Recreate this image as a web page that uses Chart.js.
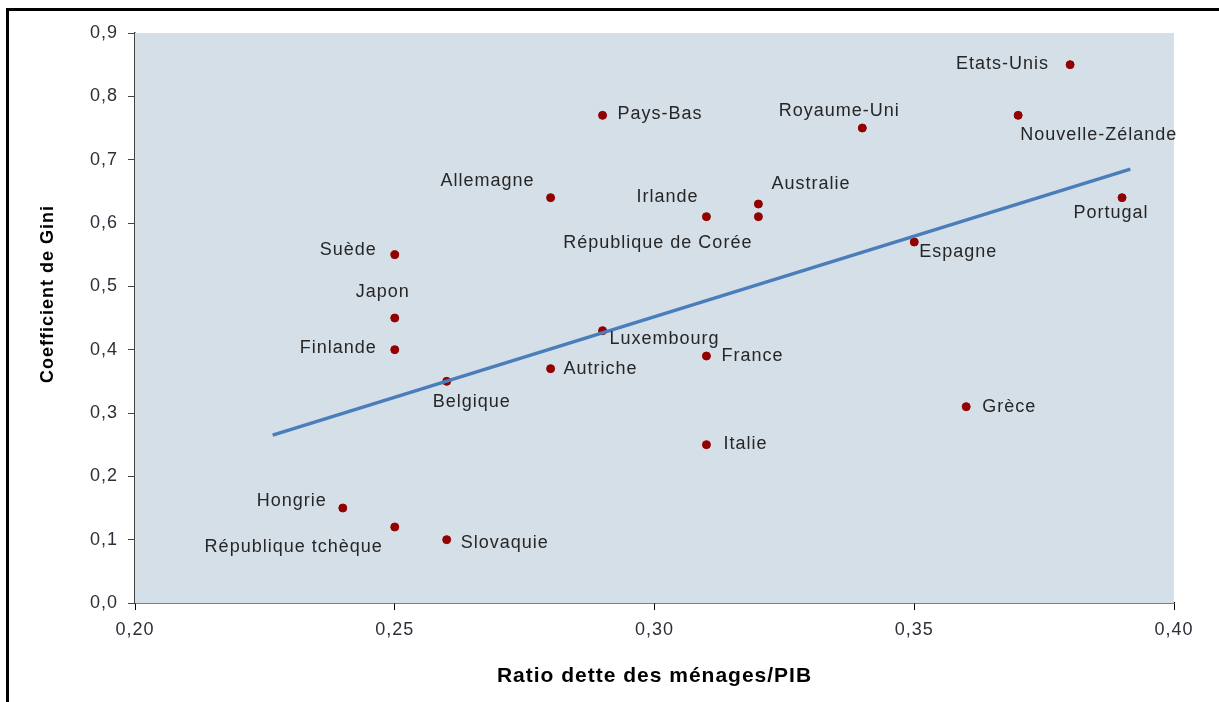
<!DOCTYPE html>
<html>
<head>
<meta charset="utf-8">
<script src="https://cdn.jsdelivr.net/npm/chart.js@4"></script>
<style>
  html, body { margin: 0; padding: 0; background: #fff; }
  #wrap { position: relative; width: 1219px; height: 702px; }
  #frame { position: absolute; left: 6px; top: 8px; right: -10px; bottom: -10px;
           border-top: 3px solid #000; border-left: 3px solid #000; pointer-events: none; }
</style>
</head>
<body>
<div id="wrap">
  <canvas id="gini-chart" width="1219" height="702"></canvas>
  <div id="frame"></div>
</div>
<script>
// data
const countries = ['Etats-Unis', 'Nouvelle-Zélande', 'Royaume-Uni', 'Pays-Bas', 'Allemagne', 'Irlande',
    'Australie', 'République de Corée', 'Portugal', 'Espagne', 'Suède', 'Japon', 'Finlande',
    'Luxembourg', 'France', 'Autriche', 'Belgique', 'Grèce', 'Italie', 'Hongrie',
    'République tchèque', 'Slovaquie'];
const debtRatio = [0.38, 0.37, 0.34, 0.29, 0.28, 0.31, 0.32, 0.32, 0.39, 0.35, 0.25, 0.25, 0.25,
    0.29, 0.31, 0.28, 0.26, 0.36, 0.31, 0.24, 0.25, 0.26];
const gini = [0.85, 0.77, 0.75, 0.77, 0.64, 0.61, 0.63, 0.61, 0.64, 0.57, 0.55, 0.45, 0.40,
    0.43, 0.39, 0.37, 0.35, 0.31, 0.25, 0.15, 0.12, 0.10];
const trendX = [0.2265, 0.3916];
const trendY = [0.265, 0.685];

const xTitle = 'Ratio dette des ménages/PIB';
const yTitle = 'Coefficient de Gini';

// where each label sits relative to its point: [textAlign, dx, dy]
const labelPlace = {
    'Etats-Unis': ['right', -21, -1],
    'Nouvelle-Zélande': ['left', 2, 20],
    'Royaume-Uni': ['center', -23, -17],
    'Pays-Bas': ['left', 15, -1],
    'Allemagne': ['right', -16, -17],
    'Irlande': ['right', -8, -20],
    'Australie': ['left', 13, -20],
    'République de Corée': ['right', -6, 26],
    'Portugal': ['center', -11, 15],
    'Espagne': ['left', 5, 10],
    'Suède': ['right', -18, -5],
    'Japon': ['center', -12, -26],
    'Finlande': ['right', -18, -2],
    'Luxembourg': ['left', 7, 8],
    'France': ['left', 15, 0],
    'Autriche': ['left', 13, 0],
    'Belgique': ['center', 25, 21],
    'Grèce': ['left', 16, 0],
    'Italie': ['left', 17, -1],
    'Hongrie': ['right', -16, -7],
    'République tchèque': ['right', -12, 20],
    'Slovaquie': ['left', 14, 3]
};

const FONT = '"Liberation Sans", Arial, sans-serif';

// the original is a bit stretched sideways, so all text gets some letter spacing
const wideText = {
    id: 'wideText',
    beforeLayout(chart) { chart.ctx.letterSpacing = '1px'; },
    beforeDraw(chart) { chart.ctx.letterSpacing = '1px'; }
};

const plotBackground = {
    id: 'plotBackground',
    beforeDatasetsDraw(chart) {
        const {ctx, chartArea} = chart;
        ctx.save();
        ctx.fillStyle = '#d5dfe8';
        ctx.fillRect(chartArea.left, chartArea.top, chartArea.right - chartArea.left, chartArea.bottom - chartArea.top);
        ctx.restore();
    }
};

const pointLabels = {
    id: 'pointLabels',
    afterDatasetsDraw(chart) {
        const {ctx} = chart;
        const meta = chart.getDatasetMeta(1);
        ctx.save();
        ctx.font = '18px ' + FONT;
        ctx.fillStyle = '#262626';
        ctx.textBaseline = 'middle';
        meta.data.forEach((pt, i) => {
            const place = labelPlace[countries[i]] || ['left', 10, 0];
            ctx.textAlign = place[0];
            ctx.fillText(countries[i], pt.x + place[1], pt.y + place[2]);
        });
        ctx.restore();
    }
};

// y title sits a little above the middle of the axis in the original
const yAxisTitle = {
    id: 'yAxisTitle',
    afterDraw(chart) {
        const {ctx, chartArea} = chart;
        ctx.save();
        ctx.translate(48, (chartArea.top + chartArea.bottom) / 2 - 24);
        ctx.rotate(-Math.PI / 2);
        ctx.font = 'bold 18px ' + FONT;
        ctx.fillStyle = '#000';
        ctx.textAlign = 'center';
        ctx.textBaseline = 'middle';
        ctx.fillText(yTitle, 0, 0);
        ctx.restore();
    }
};

const comma = (v, d) => v.toFixed(d).replace('.', ',');

const ctx = document.getElementById('gini-chart').getContext('2d');
new Chart(ctx, {
    type: 'scatter',
    data: {
        datasets: [{
            label: 'Tendance',
            type: 'line',
            data: trendX.map((x, i) => ({x: x, y: trendY[i]})),
            borderColor: '#4a7ebb',
            borderWidth: 3.5,
            pointRadius: 0,
            fill: false
        }, {
            label: 'Pays',
            data: debtRatio.map((x, i) => ({x: x, y: gini[i]})),
            backgroundColor: '#930000',
            borderColor: '#930000',
            pointRadius: 4,
            pointHoverRadius: 4
        }]
    },
    options: {
        responsive: false,
        animation: false,
        layout: { padding: { left: 0, right: 45, top: 33, bottom: 0 } },
        plugins: {
            legend: { display: false },
            tooltip: { enabled: false }
        },
        scales: {
            x: {
                type: 'linear',
                min: 0.2,
                max: 0.4,
                afterFit(scale) { scale.height = 99; },
                ticks: {
                    stepSize: 0.05,
                    padding: 9,
                    color: '#2e2e3a',
                    font: { family: FONT, size: 18 },
                    callback: v => comma(v, 2)
                },
                grid: { display: true, drawOnChartArea: false, tickLength: 7, tickColor: '#000' },
                border: { display: true, color: '#000', width: 1.5 },
                title: {
                    display: true,
                    text: xTitle,
                    color: '#000',
                    font: { family: FONT, size: 21, weight: 'bold' },
                    padding: { top: 0, bottom: 13 }
                }
            },
            y: {
                min: 0,
                max: 0.9,
                afterFit(scale) { scale.width = 135; },
                ticks: {
                    stepSize: 0.1,
                    padding: 10,
                    color: '#2e2e3a',
                    font: { family: FONT, size: 18 },
                    callback: v => comma(v, 1)
                },
                grid: { display: true, drawOnChartArea: false, tickLength: 7, tickColor: '#444' },
                border: { display: true, color: '#444', width: 1.5 }
            }
        }
    },
    plugins: [wideText, plotBackground, pointLabels, yAxisTitle]
});
</script>
</body>
</html>
